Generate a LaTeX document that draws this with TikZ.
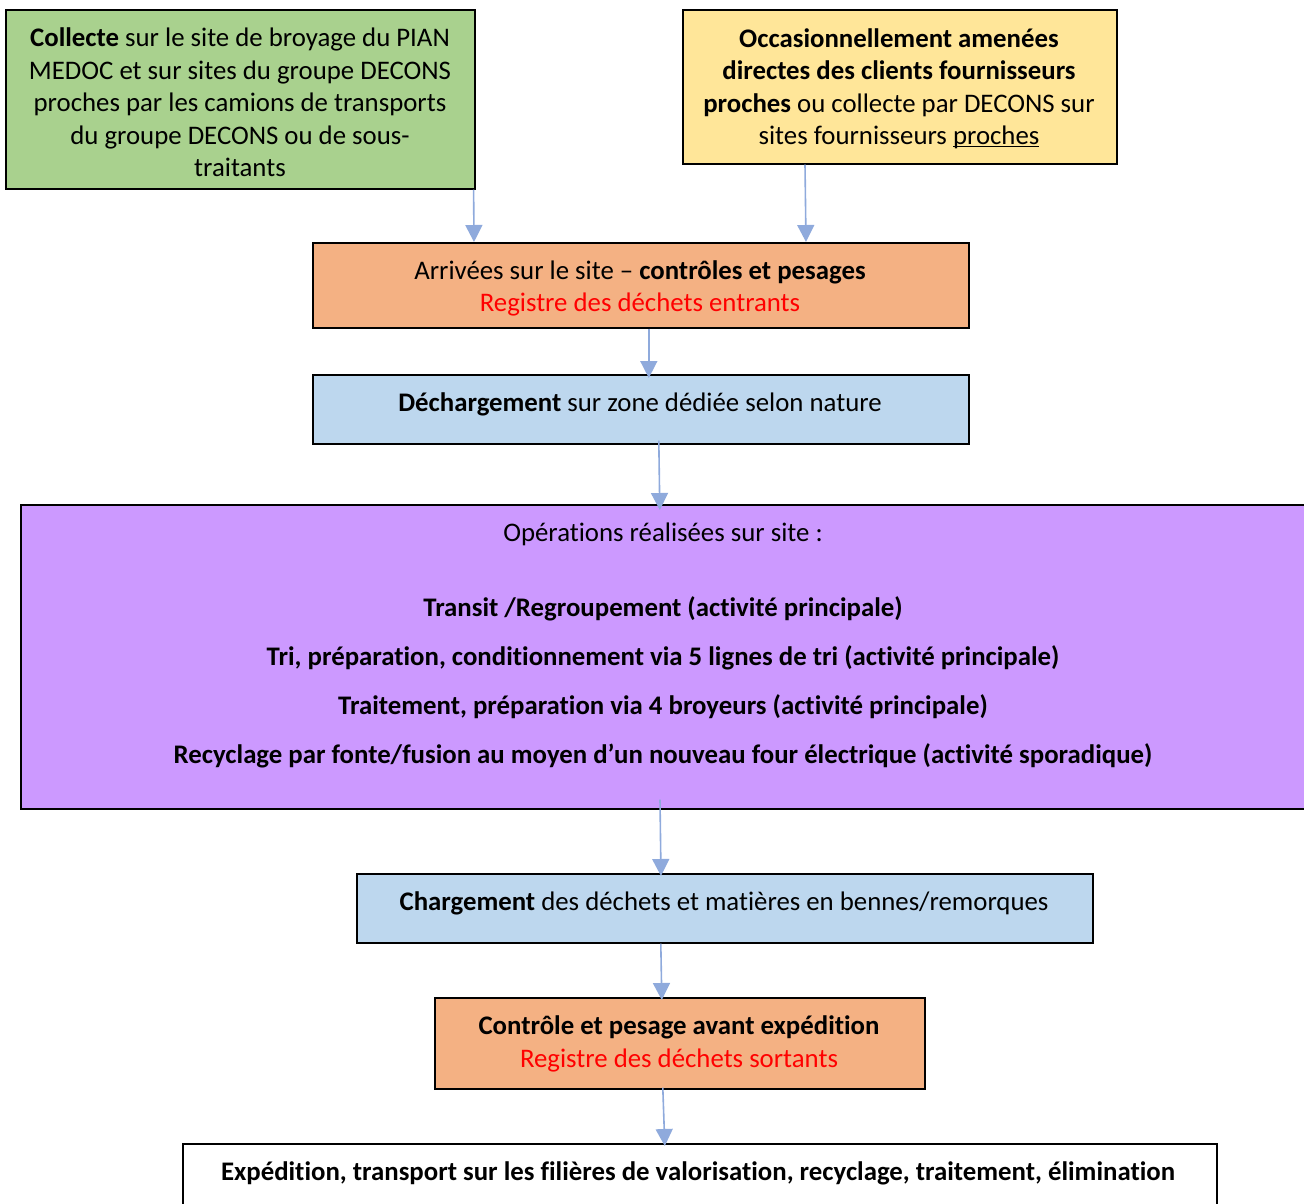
\documentclass[tikz,border=0pt]{standalone}
\usepackage{fontspec}
\setmainfont{Carlito}[Ligatures=NoCommon]
\usetikzlibrary{arrows.meta}
\definecolor{boxgreen}{HTML}{A9D18E}
\definecolor{boxyellow}{HTML}{FFE699}
\definecolor{boxorange}{HTML}{F4B183}
\definecolor{boxblue}{HTML}{BDD7EE}
\definecolor{boxpurple}{HTML}{CC99FF}
\definecolor{flowarrow}{HTML}{8FAADC}
\definecolor{regred}{HTML}{FF0000}
\newcommand{\ulword}[1]{\setbox0\hbox{#1}\rlap{\rule[-2.2pt]{\wd0}{1pt}}#1}
\tikzset{
  box/.style={draw=black, line width=1.6pt, rectangle, inner sep=0pt, anchor=north west},
  label/.style={align=center, inner sep=0pt, font=\fontsize{26.8}{32.5}\selectfont},
  flow/.style={draw=flowarrow, line width=1.6pt, -{Triangle[length=17pt,width=17pt]}}
}
\begin{document}
\begin{tikzpicture}[x=1pt,y=-1pt]
\useasboundingbox (0,0) rectangle (1304,1203);
% boxes
\node[box, fill=boxgreen, minimum width=469pt, minimum height=179pt] (collecte) at (5,9) {};
\node[box, fill=boxyellow, minimum width=434pt, minimum height=154pt] (apport) at (682,9) {};
\node[box, fill=boxorange, minimum width=656pt, minimum height=85pt] (arrivee) at (312,242) {};
\node[box, fill=boxblue, minimum width=656pt, minimum height=69pt] (decharge) at (312,374) {};
\node[box, fill=boxpurple, minimum width=1300pt, minimum height=304pt] (operations) at (20,504) {};
\node[box, fill=boxblue, minimum width=736pt, minimum height=69pt] (charge) at (356,873) {};
\node[box, fill=boxorange, minimum width=490pt, minimum height=91pt] (controle) at (434,997) {};
\node[box, fill=white, minimum width=1034pt, minimum height=80pt] (expedition) at (182,1143) {};
% texts
\node[label] (tcollecte) at (240,102.5) {\textbf{Collecte} sur le site de broyage du PIAN\\MEDOC et sur sites du groupe DECONS\\proches par les camions de transports\\du groupe DECONS ou de sous-\\traitants};
\node[label] (tapport) at (899,89) {\textbf{Occasionnellement amenées}\\\textbf{directes des clients fournisseurs}\\\textbf{proches} ou collecte par DECONS sur\\sites fournisseurs \ulword{proches}};
\node[label] (tarrivee) at (640,288.5) {Arrivées sur le site -- \textbf{contrôles et pesages}\\\textcolor{regred}{Registre des déchets entrants}};
\node[label] (tdecharge) at (640,404) {\textbf{Déchargement} sur zone dédiée selon nature};
\node[label] (toptitle) at (663,534) {Opérations réalisées sur site :};
\node[label, font=\fontsize{26.8}{49}\selectfont\bfseries] (toplist) at (663,682.5) {Transit /Regroupement (activité principale)\\Tri, préparation, conditionnement via 5 lignes de tri (activité principale)\\Traitement, préparation via 4 broyeurs (activité principale)\\Recyclage par fonte/fusion au moyen d’un nouveau four électrique (activité sporadique)};
\node[label] (tcharge) at (724,903) {\textbf{Chargement} des déchets et matières en bennes/remorques};
\node[label] (tcontrole) at (679,1044) {\textbf{Contrôle et pesage avant expédition}\\\textcolor{regred}{Registre des déchets sortants}};
\node[label, font=\fontsize{26.8}{32.5}\selectfont\bfseries] (texped) at (698,1173) {Expédition, transport sur les filières de valorisation, recyclage, traitement, élimination};
% connectors
\draw[flow] ([xshift=-2pt]collecte.south east) -- ([xshift=162pt]arrivee.north west);
\draw[flow] ([xshift=123pt]apport.south west) -- ([xshift=494pt]arrivee.north west);
\draw[flow] ([xshift=8pt]arrivee.south) -- ([xshift=8pt,yshift=-4pt]decharge.north);
\draw[flow] ([xshift=18pt,yshift=4pt]decharge.south) -- ([xshift=19pt,yshift=-6pt]decharge.south |- operations.north);
\draw[flow] ([yshift=10pt]operations.south -| charge.north west) ++(304pt,0) -- ([xshift=305pt,yshift=-3pt]charge.north west);
\draw[flow] ([xshift=-64pt]charge.south) -- ([xshift=-18pt,yshift=-3pt]controle.north);
\draw[flow] ([xshift=-17pt,yshift=2pt]controle.south) -- ([xshift=-35pt,yshift=-3pt]expedition.north);
\end{tikzpicture}
\end{document}
